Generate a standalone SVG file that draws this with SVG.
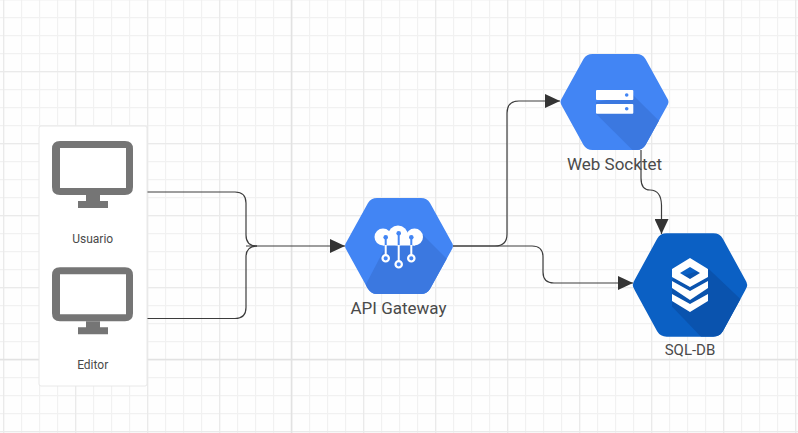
<svg xmlns="http://www.w3.org/2000/svg" width="798" height="433" viewBox="0 0 798 433">
<style>
.minor{stroke:#f1f1f1;stroke-width:1.2;fill:none}
.mid{stroke:#eaeaea;stroke-width:1.3;fill:none}
.major{stroke:#e2e2e2;stroke-width:1.5;fill:none}
.conn{fill:none;stroke:#3c3c3c;stroke-width:1.2}
.lbl{font-family:Roboto,"Liberation Sans",sans-serif;fill:#4a4a4a;text-anchor:middle}
.mon{fill:#757575}
.ico{fill:#fff}
</style>
<defs>
<pattern id="g18" x="3" y="-1" width="18" height="18" patternUnits="userSpaceOnUse"><path class="minor" d="M0.600 0V18M0 0.600H18"/></pattern>
<pattern id="g72" x="3" y="-1" width="72" height="72" patternUnits="userSpaceOnUse"><path class="mid" d="M0.650 0V72M0 0.650H72"/></pattern>
<marker id="arr" markerUnits="userSpaceOnUse" markerWidth="15" markerHeight="14" refX="15" refY="7" orient="auto"><path d="M0 0L15 7L0 14Z" fill="#333"/></marker>
<path id="hex" d="M-54 0Q-54 -2 -52 -5L-31 -43Q-28 -48 -22 -48H22Q28 -48 31 -43L52 -5Q54 -2 54 0Q54 2 52 5L31 43Q28 48 22 48H-22Q-28 48 -31 43L-52 5Q-54 2 -54 0Z"/>
<clipPath id="hexclip"><use href="#hex"/></clipPath>
<g id="monitor"><path class="mon" fill-rule="evenodd" d="M60 141H125Q133 141 133 149V187Q133 195 125 195H60Q52 195 52 187V149Q52 141 60 141ZM60 148V188H126V148Z"/><path class="mon" d="M86 195H100V201H108V208H78V201H86Z"/></g>
</defs>
<rect width="798" height="433" fill="#fefefe"/>
<rect width="798" height="433" fill="url(#g18)"/>
<rect width="798" height="433" fill="url(#g72)"/>
<path class="major" d="M291.500 0V433M0 359.500H798"/>

<g id="connectors">
<path class="conn" d="M147 192H235Q246 192 246 203V235Q246 246 257 246"/>
<path class="conn" d="M147 318.500H235Q246 318.500 246 307.500V257Q246 246 257 246"/>
<path class="conn" d="M246 246H345" marker-end="url(#arr)"/>
<path class="conn" d="M453 246H495Q507 246 507 234V113Q507 101 519 101H560" marker-end="url(#arr)"/>
<path class="conn" d="M453 246H532Q543 246 543 257V272Q543 283 554 283H633" marker-end="url(#arr)"/>
<path class="conn" d="M641 150V178Q641 190 650 190Q661 190 661.500 205V234" marker-end="url(#arr)"/>
</g>

<g id="clients">
<rect x="39" y="126" width="108" height="260" rx="2" fill="#fff" stroke="#e8e8e8" stroke-width="1"/>
<g id="usuario"><use href="#monitor"/><text class="lbl" x="92.700" y="242.500" font-size="12">Usuario</text></g>
<g id="editor"><use href="#monitor" y="126.300"/><text class="lbl" x="92.700" y="368.500" font-size="12">Editor</text></g>
</g>

<g id="api-gateway">
<g transform="translate(399 246)">
<use href="#hex" fill="#4285f4"/>
<path d="M24 -11L60 25V60H-14L-34 40L-13 0Z" fill="#3b78e0" clip-path="url(#hexclip)"/>
<g class="ico"><circle cx="-16" cy="-9" r="8.500"/><circle cx="-1" cy="-10.500" r="10"/><circle cx="15.500" cy="-9" r="8.500"/><rect x="-16" y="-10" width="32" height="9.500"/></g>
<path d="M-13.300 -8V-0.500M-0.300 -12V-0.500M12.300 -8V-0.500" stroke="#4285f4" stroke-width="2" fill="none"/>
<circle cx="-13.300" cy="-8.700" r="2.300" fill="#4285f4"/><circle cx="-0.300" cy="-12.700" r="2.300" fill="#4285f4"/><circle cx="12.300" cy="-8.700" r="2.300" fill="#4285f4"/>
<path d="M-13.300 -1V9M-0.300 -1V15M12.300 -1V9" stroke="#fff" stroke-width="2" fill="none"/>
<g fill="#4285f4" stroke="#fff" stroke-width="2.200"><circle cx="-13.300" cy="12.300" r="3.200"/><circle cx="-0.300" cy="18.300" r="3.200"/><circle cx="12.300" cy="12.300" r="3.200"/></g>
</g>
<text class="lbl" x="398.500" y="314" font-size="17">API Gateway</text>
</g>

<g id="web-socket">
<g transform="translate(614.500 102)">
<use href="#hex" fill="#4285f4"/>
<path d="M18.500 -7L70 44V60H30L-18.500 11.700V0Z" fill="#3b78e0" clip-path="url(#hexclip)"/>
<rect class="ico" x="-18.500" y="-12" width="37.300" height="10" rx="1"/>
<rect class="ico" x="-18.500" y="2" width="37.300" height="9.700" rx="1"/>
<circle cx="12.200" cy="-7" r="1.800" fill="#4285f4"/><circle cx="12.200" cy="6.700" r="1.800" fill="#4285f4"/>
</g>
<text class="lbl" x="614.500" y="170" font-size="17">Web Socktet</text>
</g>

<g id="sql-db">
<g transform="translate(690 285) scale(1.06 1.076)">
<use href="#hex" fill="#0b60c4"/>
<path d="M16.500 -16L70 34V60H22L-17 20V-5Z" fill="#0a53ae" clip-path="url(#hexclip)"/>
</g>
<g transform="translate(690 285)">
<path class="ico" fill-rule="evenodd" d="M0 -27L18 -16V-8L0 2L-18 -8V-16ZM0 -18L-10 -12L0 -6L10 -12Z"/>
<path class="ico" d="M-18 -4L0 6L18 -4V3L0 15L-18 3Z"/>
<path class="ico" d="M-18 9L0 19L18 9V16L0 27L-18 16Z"/>
</g>
<text class="lbl" x="690" y="355" font-size="15">SQL-DB</text>
</g>
</svg>
